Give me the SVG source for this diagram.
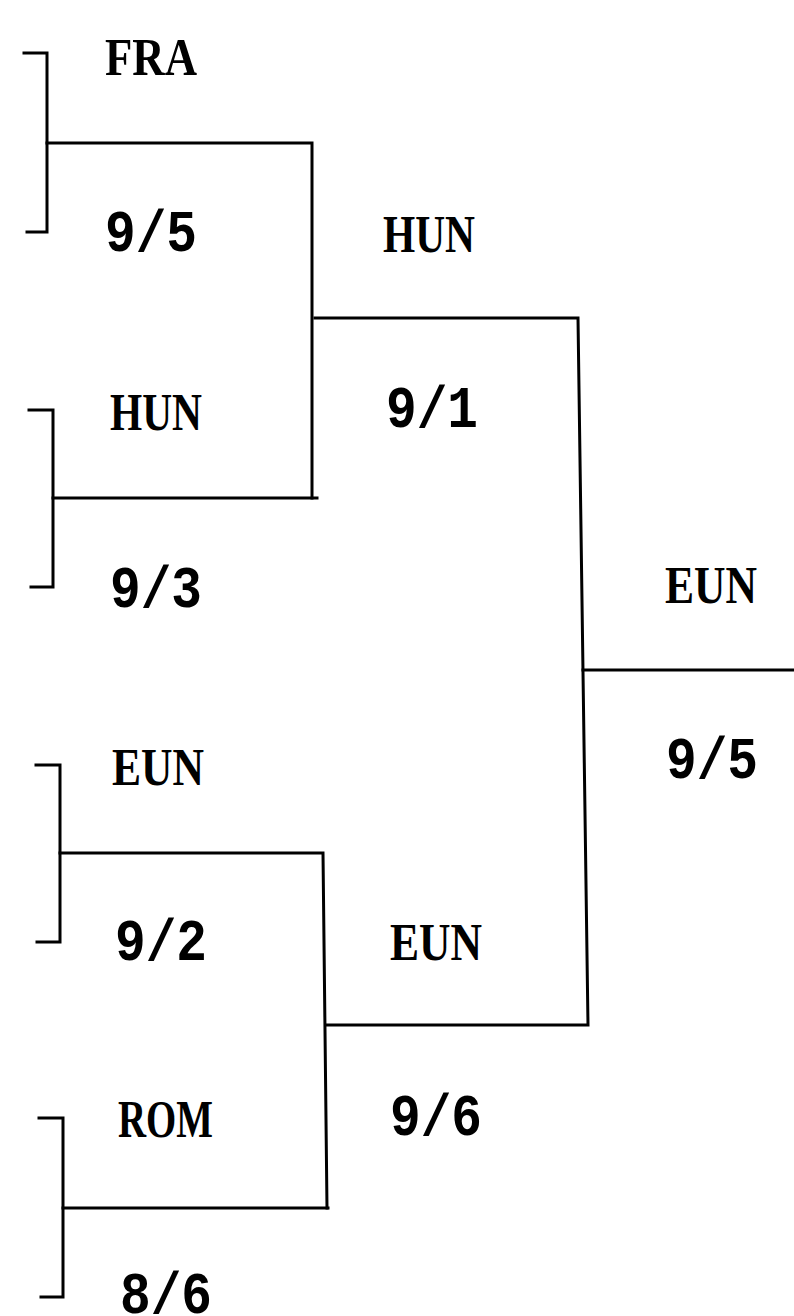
<svg xmlns="http://www.w3.org/2000/svg" width="794" height="1316" viewBox="0 0 794 1316">
<style>
.ln{fill:none;stroke:#000;stroke-width:3;stroke-linecap:square;stroke-linejoin:miter}
.t{font-family:"Liberation Mono","Courier New",monospace;font-weight:bold;font-size:60px;fill:#000}
.n{font-family:"Liberation Serif","Times New Roman",serif;font-weight:bold;font-size:52px;fill:#000}
</style>
<rect width="794" height="1316" fill="#fff"/>
<g id="connectors">
<path class="ln" d="M24,53 H47 V232 H27"/>
<path class="ln" d="M47,143 H312 V498"/>
<path class="ln" d="M29,410 H53 V587 H31"/>
<path class="ln" d="M53,498 H317"/>
<path class="ln" d="M315,318 H578 L588,1025 H326"/>
<path class="ln" d="M583,670 H794"/>
<path class="ln" d="M36,765 H60 V942 H37"/>
<path class="ln" d="M60,853 H323 L327,1208"/>
<path class="ln" d="M39,1118 H63 V1297 H41"/>
<path class="ln" d="M63,1208 H328"/>
</g>
<g id="n-fra"><text class="n" x="105" y="75" textLength="92" lengthAdjust="spacingAndGlyphs">FRA</text><text class="t" x="105" y="251" textLength="92" lengthAdjust="spacingAndGlyphs">9/5</text></g>
<g id="n-hun1"><text class="n" x="110" y="430" textLength="92" lengthAdjust="spacingAndGlyphs">HUN</text><text class="t" x="110" y="607" textLength="92" lengthAdjust="spacingAndGlyphs">9/3</text></g>
<g id="n-eun1"><text class="n" x="112" y="785" textLength="92" lengthAdjust="spacingAndGlyphs">EUN</text><text class="t" x="115" y="960" textLength="92" lengthAdjust="spacingAndGlyphs">9/2</text></g>
<g id="n-rom"><text class="n" x="118" y="1137" textLength="95" lengthAdjust="spacingAndGlyphs">ROM</text><text class="t" x="120" y="1313" textLength="92" lengthAdjust="spacingAndGlyphs">8/6</text></g>
<g id="n-hun2"><text class="n" x="383" y="252" textLength="92" lengthAdjust="spacingAndGlyphs">HUN</text><text class="t" x="386" y="427" textLength="92" lengthAdjust="spacingAndGlyphs">9/1</text></g>
<g id="n-eun2"><text class="n" x="390" y="960" textLength="92" lengthAdjust="spacingAndGlyphs">EUN</text><text class="t" x="390" y="1135" textLength="92" lengthAdjust="spacingAndGlyphs">9/6</text></g>
<g id="n-eun3"><text class="n" x="665" y="603" textLength="92" lengthAdjust="spacingAndGlyphs">EUN</text><text class="t" x="666" y="778" textLength="92" lengthAdjust="spacingAndGlyphs">9/5</text></g>
</svg>
